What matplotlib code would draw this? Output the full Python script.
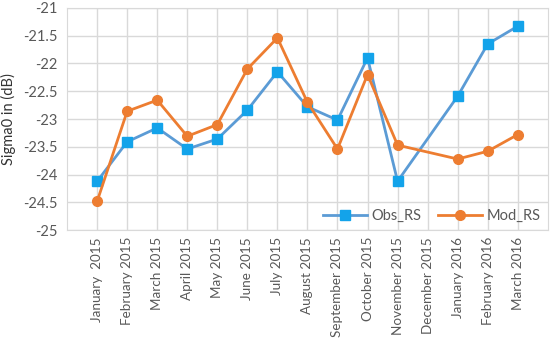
import numpy as np
import matplotlib
matplotlib.use("Agg")
import matplotlib.pyplot as plt

plt.rcParams['font.family'] = ['Lato', 'DejaVu Sans']

months = ["January  2015", "February 2015", "March 2015", "April 2015", "May 2015",
          "June 2015", "July 2015", "August 2015", "September 2015", "October 2015",
          "November 2015", "December 2015", "January 2016", "February 2016", "March 2016"]

# December 2015 has no value (None) -> lines bridge the gap
obs_rs = [-24.12, -23.41, -23.16, -23.54, -23.36, -22.84, -22.15, -22.78, -23.02,
          -21.90, -24.12, None, -22.59, -21.65, -21.33]
mod_rs = [-24.48, -22.86, -22.66, -23.31, -23.10, -22.10, -21.54, -22.70, -23.54,
          -22.20, -23.47, None, -23.72, -23.58, -23.28]

yticks = np.arange(-25, -20.9, 0.5)
ytick_labels = ["-25", "-24.5", "-24", "-23.5", "-23", "-22.5", "-22", "-21.5", "-21"]


def valid(vals):
    x = [i for i, v in enumerate(vals) if v is not None]
    y = [v for v in vals if v is not None]
    return x, y


fig = plt.figure(figsize=(5.5, 3.42), dpi=100)
ax = fig.add_axes([0.122, 0.327, 0.874, 0.650])

text_col = "#595959"
grid_col = "#d9d9d9"

x, y = valid(obs_rs)
ax.plot(x, y, color="#5b9bd5", lw=2, marker="s", ms=7, mfc="#13a3ea", mec="#13a3ea",
        label="Obs_RS", zorder=3)
x, y = valid(mod_rs)
ax.plot(x, y, color="#ed7d31", lw=2, marker="o", ms=7, mfc="#ed7d31", mec="#ed7d31",
        label="Mod_RS", zorder=3)

ax.set_xlim(-1, len(months))
ax.set_ylim(-25, -21)
ax.set_xticks(range(len(months)))
ax.set_xticklabels(months, rotation=90, fontsize=9.7, color=text_col)
ax.tick_params(axis="x", length=0, pad=5)
ax.set_yticks(yticks)
ax.set_yticklabels(ytick_labels, fontsize=10.5, color=text_col)
ax.tick_params(axis="y", length=0, pad=7)
ax.grid(True, color=grid_col, lw=1)
ax.set_axisbelow(True)
for s in ax.spines.values():
    s.set_color(grid_col)

ax.set_ylabel("Sigma0 in (dB)", fontsize=10.5, color="#333333", labelpad=5)

ax.legend(loc="lower right", ncol=2, frameon=False, fontsize=10.5, labelcolor=text_col,
          handlelength=3, handletextpad=0.3, columnspacing=1.2, borderaxespad=0.1)

fig.savefig("out.png", dpi=100)
